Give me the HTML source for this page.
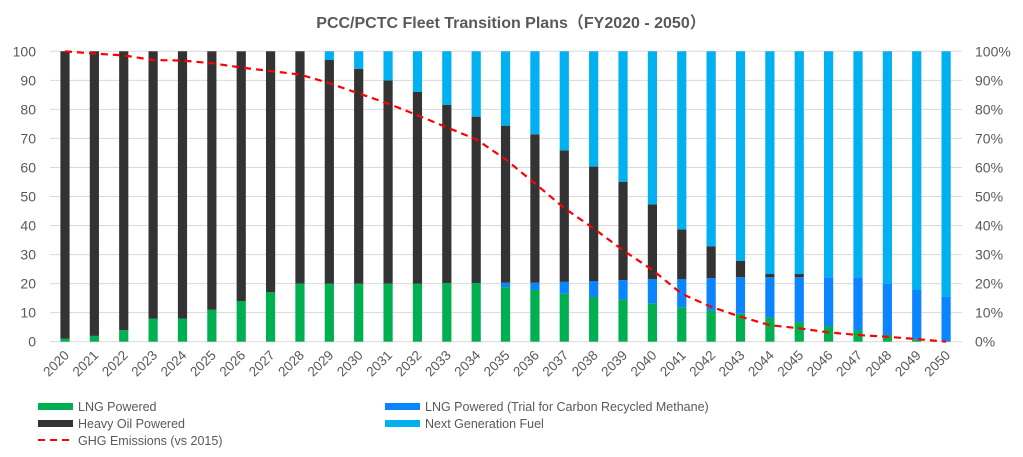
<!DOCTYPE html>
<html><head><meta charset="utf-8"><style>
body{margin:0;background:#fff}
svg{display:block;font-family:"Liberation Sans","Noto Sans CJK JP",sans-serif}
</style></head><body>
<svg id="c" width="1023" height="457" xmlns="http://www.w3.org/2000/svg">
<text x="511" y="28" text-anchor="middle" font-size="16" font-weight="bold" fill="#595959">PCC/PCTC  Fleet Transition Plans（FY2020 - 2050）</text>
<g id="grid"></g><g id="bars"></g><g id="lbl"></g>
<polyline id="ghg" fill="none" stroke="#ff0000" stroke-width="2.2" stroke-dasharray="7,5"/>
<g font-size="12.5" fill="#595959">
<rect x="38" y="403" width="35" height="7" fill="#00b050"/><text x="78" y="411">LNG Powered</text>
<rect x="38" y="420" width="35" height="7" fill="#333333"/><text x="78" y="428">Heavy Oil Powered</text>
<line x1="38" y1="440" x2="73" y2="440" stroke="#ff0000" stroke-width="2" stroke-dasharray="7,5"/><text x="78" y="445">GHG Emissions (vs 2015)</text>
<rect x="385" y="403" width="35" height="7" fill="#0a84ff"/><text x="425" y="411">LNG Powered (Trial for Carbon Recycled Methane)</text>
<rect x="385" y="420" width="35" height="7" fill="#00b0f0"/><text x="425" y="428">Next Generation Fuel</text>
</g>
</svg>
<script>
var g=[1,2,4,8,8,11,14,17,20,20,20,20,20,20.2,20.2,18.8,17.8,16.5,15.4,14.5,13.2,11.9,10.7,9.6,8.3,6.8,5.4,4,2.3,0.8,0];
var b=[0,0,0,0,0,0,0,0,0,0,0,0,0,0,0,20.3,20.3,20.6,20.9,21.2,21.6,21.6,21.9,22.2,22.2,22.2,22.2,22.2,20,17.8,15.4];
var d=[100,100,100,100,100,100,100,100,100,97,94,90,86,81.6,77.5,74.4,71.4,65.9,60.3,55.1,47.3,38.7,32.8,27.8,23.3,23.3,0,0,0,0,0];
var e=[100,99.2,98.6,97,96.8,95.9,94.4,93.2,92,89,85.5,82,78,73.8,69.7,62.8,54.5,46,39,31.5,24.7,16.5,12,8.6,5.7,4.6,3.2,2.3,1.7,0.9,0];
var y0=341.7,s=2.904,NS="http://www.w3.org/2000/svg";
function el(p,t,a,txt){var n=document.createElementNS(NS,t);for(var k in a)n.setAttribute(k,a[k]);if(txt!=null)n.textContent=txt;document.getElementById(p).appendChild(n);return n;}
for(var i=0;i<=10;i++){var y=y0-i*10*s;el("grid","line",{x1:50,x2:962,y1:y,y2:y,stroke:"#d9d9d9","stroke-width":1});
el("lbl","text",{x:36,y:y+5,"text-anchor":"end","font-size":14,fill:"#595959"},i*10);
el("lbl","text",{x:975,y:y+5,"font-size":14,fill:"#595959"},i*10+"%");}
var pts=[];
for(var i=0;i<31;i++){var cx=65+i*29.37,x=cx-4.6,w=9.2;
var gb=i>=15?b[i]:g[i];var top=i>=15?b[i]:g[i];
el("bars","rect",{x:x,y:y0-g[i]*s,width:w,height:g[i]*s,fill:"#00b050"});
if(b[i]>g[i])el("bars","rect",{x:x,y:y0-b[i]*s,width:w,height:(b[i]-g[i])*s,fill:"#0a84ff"});
var base=Math.max(g[i],b[i]);
if(d[i]>base)el("bars","rect",{x:x,y:y0-d[i]*s,width:w,height:(d[i]-base)*s,fill:"#333333"});
var t2=Math.max(d[i],base);
if(t2<100)el("bars","rect",{x:x,y:y0-100*s,width:w,height:(100-t2)*s,fill:"#00b0f0"});
pts.push(cx+","+(y0-e[i]*s));
var t=el("lbl","text",{x:0,y:0,"text-anchor":"end","font-size":13.5,fill:"#595959",transform:"translate("+(cx+5)+",356) rotate(-45)"},2020+i);}
document.getElementById("ghg").setAttribute("points",pts.join(" "));
</script>
</body></html>
